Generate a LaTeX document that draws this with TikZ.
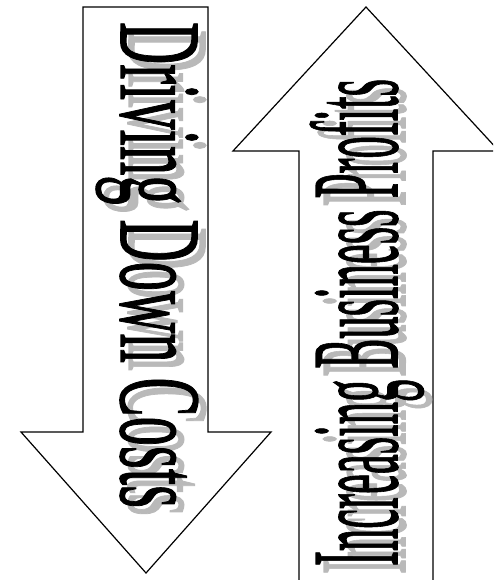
\documentclass[tikz,border=0pt]{standalone}
\usepackage{fontspec}
\setmainfont{Liberation Serif}
\newfontfamily\labelfont[FakeBold=1.2]{Liberation Serif}
\definecolor{shadowgray}{RGB}{185,185,185}
\tikzset{
  arrowshape/.style={draw=black, fill=white, line width=1.2pt, line join=miter},
  label/.style={inner sep=0pt, outer sep=0pt, anchor=base west},
  shade/.style={label, text=shadowgray},
  ink/.style={label, text=black}
}
\newcommand{\leftlabel}{\resizebox{486pt}{77pt}{\fontsize{100}{100}\selectfont\labelfont Driving Down Costs}}
\newcommand{\rightlabel}{\resizebox{487pt}{87pt}{\fontsize{100}{100}\selectfont\labelfont Increasing Business Profits}}
\begin{document}
\begin{tikzpicture}[x=1pt, y=-1pt]
  \useasboundingbox (0,0) rectangle (493,580);
  \clip (0,0) rectangle (493,580);
  % down arrow
  \draw[arrowshape] (83,7) -- (208,7) -- (208,432) -- (271,432) -- (146,573)
        -- (21,432) -- (83,432) -- cycle;
  % up arrow
  \draw[arrowshape] (299,600) -- (299,151) -- (233,151) -- (366,7) -- (499,151)
        -- (433,151) -- (433,600) -- cycle;
  % texts
  \node[shade, rotate=-90] (lshadow) at (129,30) {\leftlabel};
  \node[ink, rotate=-90] (ltext) at (121,22) {\leftlabel};
  \node[shade, rotate=90] (rshadow) at (405,574) {\rightlabel};
  \node[ink, rotate=90] (rtext) at (397,566) {\rightlabel};
\end{tikzpicture}
\end{document}
